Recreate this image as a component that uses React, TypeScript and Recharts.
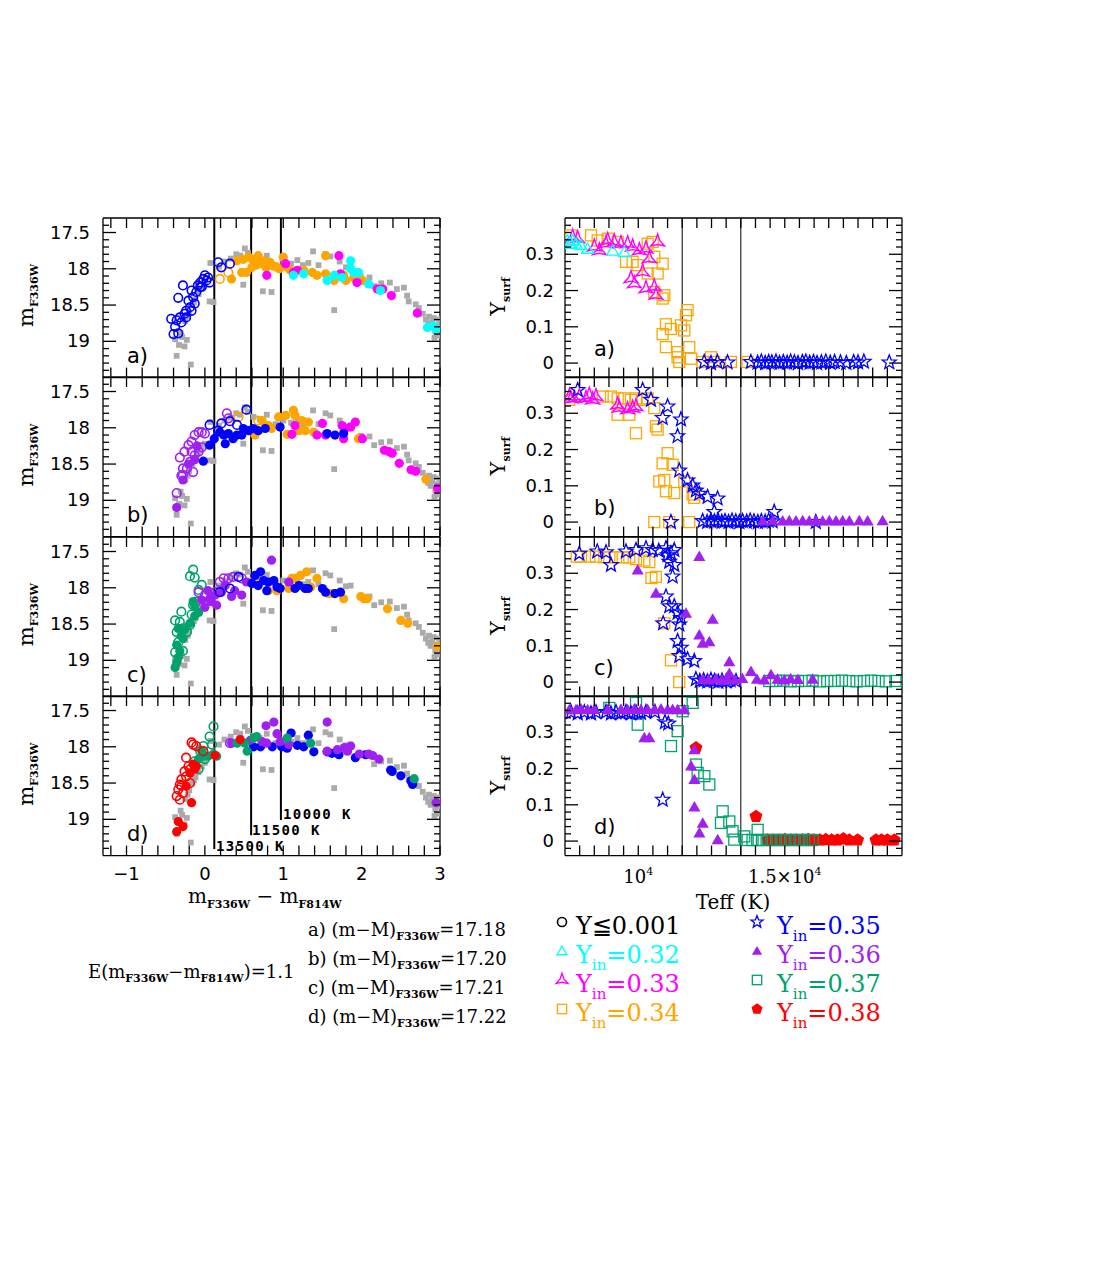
import React from "react";
import { ScatterChart, Scatter, XAxis, YAxis, ReferenceLine } from "recharts";

type Pt = [number, number];
type Mk = "dot" | "ring" | "gsq" | "sq" | "tri" | "trifill" | "tristar" | "star" | "pent";

const BLUE = "#0000ff";
const CYAN = "#00ffff";
const MAGENTA = "#ff00ff";
const ORANGE = "#ffa500";
const PURPLE = "#a020f0";
const GREEN = "#00a36c";
const RED = "#ff0000";
const GRAY = "#aaaaaa";

// axis ticks and labels
const CMD_X_MAJOR = [-1, 0, 1, 2, 3];
const CMD_Y_MAJOR = [17.5, 18, 18.5, 19];
const TEFF_MAJOR = [10000, 15000];
const YSURF_MAJOR = [0, 0.1, 0.2, 0.3];
const PANEL_LETTERS = ["a)", "b)", "c)", "d)"];
const DIST_MODULI = ["17.18", "17.20", "17.21", "17.22"];

// Teff boundaries: colour on the CMD, Teff on the right
const TEMP_COLORS = [0.12, 0.59, 0.97];
const TEMP_LABELS = ["13500 K", "11500 K", "10000 K"];
const TEMP_LINE_ENDS = [19.41, 19.22, 19.01];
const TEMP_TEFF = [11500, 13500];

// observed stars (grey squares), colour vs m_F336W
const grayObs: Pt[] = [
  [-0.38, 18.97], [-0.36, 19.2], [-0.29, 18.94], [-0.23, 18.98], [-0.26, 19.07], [-0.18, 19.32], [-0.33, 19.05], [-0.31, 18.88],
  [-0.25, 18.72], [-0.2, 18.6], [-0.16, 18.5], [-0.12, 18.42], [-0.08, 18.35], [-0.04, 18.27], [0.0, 18.22], [-0.22, 18.66], [-0.14, 18.46], [-0.1, 18.3],
  [0.07, 17.92], [0.11, 18.46], [0.06, 18.45], [0.18, 17.97], [0.25, 17.9], [0.33, 17.86], [0.4, 17.8], [0.45, 17.82], [0.51, 17.72], [0.49, 18.22],
  [0.55, 17.78], [0.62, 17.85], [0.7, 17.88], [0.79, 17.82], [0.74, 18.31], [0.85, 18.32], [0.9, 17.95], [1.0, 17.9], [1.1, 17.93], [1.18, 17.88],
  [1.25, 17.95], [1.32, 17.92], [1.38, 17.76], [1.45, 17.95], [1.54, 17.8], [1.6, 17.83], [1.65, 18.57], [1.72, 17.9], [1.8, 17.98], [1.86, 17.97],
  [1.99, 18.11], [2.1, 18.12], [2.16, 18.24], [2.25, 18.2], [2.36, 18.19], [2.45, 18.28], [2.54, 18.26], [2.58, 18.37], [2.6, 18.45], [2.69, 18.49],
  [2.73, 18.54], [2.78, 18.62], [2.82, 18.7], [2.86, 18.66], [2.88, 18.8], [2.9, 18.74], [2.92, 18.68], [2.94, 18.86], [2.96, 18.78], [2.97, 18.92],
  [2.99, 18.7], [3.0, 18.82], [2.93, 18.95], [2.85, 18.76],
];

// panel a, CMD
const aBlueOpen: Pt[] = [
  [-0.43, 18.69], [-0.36, 18.71], [-0.4, 18.9], [-0.34, 18.89], [-0.38, 18.8], [-0.32, 18.67], [-0.28, 18.23], [-0.34, 18.4], [-0.24, 18.58],
  [-0.26, 18.62], [-0.19, 18.53], [-0.21, 18.44], [-0.15, 18.39], [-0.17, 18.3], [-0.11, 18.32], [-0.09, 18.23], [-0.06, 18.19], [-0.02, 18.14],
  [0.0, 18.09], [0.02, 18.16], [0.04, 18.12], [0.06, 18.19], [-0.04, 18.25], [-0.13, 18.48], [0.17, 17.91], [0.21, 17.98], [0.32, 17.93],
  [-0.3, 18.74], [-0.24, 18.67], [-0.17, 18.58], [-0.06, 18.25],
];
const aOrangeOpen: Pt[] = [[0.19, 18.14], [0.3, 18.05]];
const aOrangeFill: Pt[] = [
  [0.34, 18.14], [0.41, 17.89], [0.49, 17.87], [0.56, 17.84], [0.62, 17.89], [0.68, 17.82], [0.7, 17.93], [0.75, 17.89], [0.83, 17.91],
  [0.87, 17.96], [0.92, 17.98], [1.0, 17.84], [1.05, 17.98], [1.09, 18.02], [0.53, 18.05], [0.6, 17.98], [0.47, 18.05], [1.26, 18.02],
  [1.37, 18.05], [1.43, 18.09], [1.54, 17.82], [1.65, 18.16], [1.77, 18.09], [1.8, 18.16], [1.9, 18.12], [2.01, 18.16], [1.54, 18.07],
  [0.78, 17.98], [0.95, 18.0], [0.65, 17.95],
];
const aMagentaFill: Pt[] = [
  [0.79, 18.09], [1.03, 17.93], [1.18, 18.02], [1.13, 18.05], [1.71, 17.82], [1.73, 18.07], [1.94, 18.19], [2.2, 18.28], [2.27, 18.28],
  [2.38, 18.37], [2.71, 18.61],
];
const aCyanFill: Pt[] = [
  [1.13, 18.09], [1.26, 18.07], [1.56, 18.16], [1.65, 18.09], [1.75, 18.12], [1.86, 17.89], [1.86, 18.0], [1.9, 18.05], [1.96, 18.05],
  [2.09, 18.21], [2.24, 18.3], [2.84, 18.81], [2.91, 18.79], [2.95, 18.83],
];

// panel b, CMD
const bPurpleOpen: Pt[] = [
  [-0.36, 18.9], [-0.3, 18.66], [-0.32, 18.41], [-0.26, 18.33], [-0.21, 18.24], [-0.17, 18.19], [-0.13, 18.1], [-0.08, 18.06], [-0.04, 18.06],
  [0.0, 18.08], [-0.19, 18.47], [-0.23, 18.56], [-0.15, 18.61], [-0.28, 18.65], [-0.13, 18.38], [-0.08, 18.33], [-0.04, 18.27], [-0.17, 18.33],
  [0.28, 17.8], [0.3, 17.87], [-0.28, 18.56],
];
const bPurpleFill: Pt[] = [[-0.36, 19.1], [-0.21, 18.5], [-0.13, 18.44], [-0.28, 18.72], [-0.1, 18.25]];
const bBlueOpen: Pt[] = [[0.06, 17.96], [0.21, 17.94], [0.32, 17.91], [0.41, 17.96], [0.53, 17.75], [0.17, 18.04]];
const bBlueFill: Pt[] = [
  [-0.02, 18.46], [0.06, 18.24], [0.12, 18.15], [0.19, 18.06], [0.26, 18.22], [0.24, 18.1], [0.3, 18.08], [0.36, 18.15], [0.41, 18.1],
  [0.49, 18.01], [0.56, 18.04], [0.62, 18.01], [0.68, 18.04], [0.77, 18.01], [0.96, 17.99], [1.56, 18.08], [1.66, 18.1], [1.77, 18.08], [0.47, 18.1],
];
const bOrangeOpen: Pt[] = [[0.43, 17.85], [0.68, 17.9]];
const bOrangeFill: Pt[] = [
  [0.64, 18.1], [0.73, 17.9], [0.81, 17.97], [0.85, 18.01], [0.94, 17.85], [1.03, 17.83], [1.13, 17.76], [1.15, 17.83], [1.24, 17.9],
  [1.32, 17.92], [1.2, 18.04], [1.28, 18.04], [1.39, 18.06], [1.05, 18.09], [1.96, 18.15], [2.82, 18.71],
];
const bMagentaFill: Pt[] = [
  [1.15, 17.97], [1.11, 18.09], [1.43, 18.1], [1.5, 17.94], [1.54, 18.1], [1.75, 17.97], [1.79, 18.01], [1.86, 17.99], [1.92, 17.92],
  [1.77, 18.15], [2.01, 18.15], [2.29, 18.31], [2.35, 18.33], [2.39, 18.35], [2.48, 18.49], [2.63, 18.58], [2.69, 18.6], [2.97, 18.83],
];

// panel c, CMD
const cGreenOpen: Pt[] = [
  [-0.15, 17.75], [-0.19, 17.84], [-0.13, 17.86], [-0.04, 17.96], [-0.08, 18.03], [-0.11, 18.19], [-0.15, 18.24], [-0.3, 18.33], [-0.38, 18.45],
  [-0.32, 18.47], [-0.36, 18.61], [-0.28, 18.56], [-0.19, 18.51], [-0.34, 18.75], [-0.38, 18.89], [-0.28, 18.87], [-0.23, 18.61], [-0.17, 18.37],
];
const cGreenFill: Pt[] = [
  [-0.38, 19.1], [-0.36, 19.03], [-0.34, 18.96], [-0.32, 18.87], [-0.36, 18.79], [-0.3, 18.66], [-0.26, 18.58], [-0.19, 18.49], [-0.13, 18.39],
  [-0.13, 18.25], [-0.08, 18.34], [-0.15, 18.19], [-0.34, 18.56], [-0.28, 18.7],
];
const cPurpleOpen: Pt[] = [[-0.08, 18.06], [0.19, 17.92], [0.24, 17.87], [0.3, 17.87], [0.36, 17.85], [0.47, 17.87], [0.0, 18.1], [0.13, 18.06]];
const cPurpleFill: Pt[] = [
  [-0.04, 18.17], [0.0, 18.27], [0.06, 18.15], [0.04, 18.04], [0.13, 18.1], [0.15, 18.24], [0.21, 18.06], [0.26, 17.97], [0.34, 18.12],
  [0.38, 18.04], [0.47, 18.1], [0.53, 17.92], [0.85, 17.62], [1.07, 17.92], [0.08, 18.19],
];
const cBlueOpen: Pt[] = [[0.32, 18.01], [0.43, 17.85], [0.19, 18.06]];
const cBlueFill: Pt[] = [
  [0.64, 17.83], [0.71, 17.78], [0.75, 17.9], [0.81, 17.92], [0.88, 17.9], [0.92, 17.99], [0.96, 18.01], [0.68, 17.97], [0.6, 17.94],
  [1.15, 18.01], [1.2, 17.97], [1.28, 18.01], [1.32, 18.01], [1.5, 18.01], [1.54, 18.06], [1.66, 18.08], [1.73, 18.06], [0.79, 18.04],
];
const cOrangeOpen: Pt[] = [[0.6, 17.92]];
const cOrangeFill: Pt[] = [
  [0.81, 18.04], [0.92, 18.04], [1.07, 18.01], [1.11, 17.87], [1.22, 17.83], [1.3, 17.78], [1.35, 17.99], [1.43, 17.87], [1.58, 18.08],
  [1.62, 18.08], [1.77, 18.15], [1.99, 18.12], [2.03, 18.15], [2.07, 18.15], [2.33, 18.29], [2.5, 18.45], [2.59, 18.49], [2.97, 18.81], [1.15, 17.87],
];

// panel d, CMD
const dRedOpen: Pt[] = [
  [-0.36, 18.68], [-0.32, 18.73], [-0.34, 18.59], [-0.3, 18.54], [-0.3, 18.45], [-0.24, 18.41], [-0.26, 18.34], [-0.21, 18.27], [-0.19, 18.31],
  [-0.15, 17.97], [-0.11, 17.99], [-0.17, 17.94], [-0.02, 18.06], [-0.24, 18.15], [-0.28, 18.64], [-0.32, 18.52], [-0.19, 18.5],
];
const dRedFill: Pt[] = [
  [-0.36, 19.17], [-0.34, 19.03], [-0.28, 19.1], [-0.17, 18.77], [-0.19, 18.36], [-0.13, 18.31], [-0.15, 18.24], [-0.11, 18.27], [0.13, 18.12],
  [0.45, 17.9], [-0.24, 18.54],
];
const dGreenOpen: Pt[] = [[0.11, 17.72], [0.06, 17.86], [-0.02, 17.99], [-0.06, 18.06], [0.0, 18.17], [-0.08, 18.31], [-0.13, 18.2], [0.09, 17.97]];
const dPurpleOpen: Pt[] = [[0.32, 17.95]];
const dGreenFill: Pt[] = [
  [-0.08, 18.17], [-0.02, 18.13], [0.04, 18.13], [0.11, 18.1], [0.15, 18.13], [0.41, 17.95], [0.54, 18.06], [0.62, 17.88], [0.66, 17.86],
  [1.05, 17.88], [1.35, 17.95], [2.67, 18.44], [-0.04, 18.06], [0.51, 17.95],
];
const dPurpleFill: Pt[] = [
  [0.34, 17.95], [0.58, 17.91], [0.73, 17.93], [0.78, 17.71], [0.88, 17.66], [0.92, 17.82], [0.96, 17.93], [1.07, 17.97], [0.79, 17.95],
  [1.56, 17.66], [1.56, 18.06], [1.69, 18.04], [1.78, 18.01], [1.86, 17.99], [1.82, 18.06], [1.97, 18.1], [2.09, 18.1], [2.14, 18.12],
  [2.22, 18.17], [2.95, 18.77],
];
const dBlueFill: Pt[] = [
  [0.71, 18.0], [0.86, 18.0], [0.98, 18.0], [1.1, 17.81], [1.05, 18.02], [1.18, 17.98], [1.26, 18.0], [1.32, 17.84], [1.39, 18.07],
  [1.56, 18.07], [1.62, 18.09], [1.71, 18.11], [1.92, 18.15], [2.05, 18.11], [2.37, 18.32], [2.39, 18.34], [2.5, 18.4], [2.63, 18.47],
  [2.65, 18.52], [0.62, 18.0],
];

// right column: Teff vs Y_surf
const raCyanTri: Pt[] = [
  [7592, 0.338], [7705, 0.329], [7762, 0.338], [7875, 0.329], [8046, 0.325], [8273, 0.315], [9126, 0.31], [9524, 0.306], [7650, 0.33],
];
const raMagTri: Pt[] = [
  [7762, 0.347], [7933, 0.343], [8501, 0.32], [8672, 0.31], [8899, 0.329], [8956, 0.338], [9183, 0.334], [9410, 0.329], [9638, 0.329],
  [9808, 0.32], [10036, 0.31], [10263, 0.315], [10377, 0.288], [9751, 0.233], [9865, 0.219], [10149, 0.251], [10263, 0.205], [10547, 0.21],
  [10604, 0.187], [10661, 0.334],
];
const raOrangeSq: Pt[] = [
  [7705, 0.352], [8387, 0.352], [8615, 0.338], [8956, 0.343], [9297, 0.334], [9581, 0.279], [9808, 0.279], [9979, 0.27], [10320, 0.329],
  [10490, 0.334], [10547, 0.293], [10831, 0.274], [10661, 0.247], [10320, 0.247], [10888, 0.187], [10547, 0.196], [10831, 0.178],
  [11683, 0.146], [11626, 0.132], [11456, 0.104], [11570, 0.09], [10945, 0.107], [11115, 0.094], [10831, 0.08], [10945, 0.044],
  [11342, 0.03], [11399, 0.003], [11740, 0.044], [11797, 0.012], [11342, 0.016], [12479, 0.016], [12592, 0.003], [12195, 0.003],
  [13161, 0.003], [13730, 0.003],
];
const raBlueStar: Pt[] = [
  [12250, 0.003], [12480, 0.0], [12700, 0.003], [13047, 0.002], [13843, 0.003], [14071, 0.001], [14200, 0.004], [14330, 0.0], [14450, 0.003],
  [14560, 0.002], [14700, 0.004], [14820, 0.0], [14950, 0.003], [15080, 0.001], [15200, 0.004], [15330, 0.002], [15450, 0.0], [15600, 0.003],
  [15720, 0.004], [15850, 0.001], [15980, 0.003], [16100, 0.0], [16250, 0.002], [16400, 0.004], [16550, 0.001], [16700, 0.003],
  [16900, 0.002], [17100, 0.0], [17350, 0.003], [17500, 0.002], [17700, 0.004], [18566, 0.002],
];

const rbMagTri: Pt[] = [
  [7648, 0.346], [7819, 0.341], [7989, 0.346], [8217, 0.341], [8444, 0.337], [8558, 0.346], [8330, 0.35], [9297, 0.323], [9353, 0.314],
  [9638, 0.31], [9808, 0.314], [9922, 0.318], [7700, 0.34],
];
const rbOrangeSq: Pt[] = [
  [7648, 0.337], [8785, 0.346], [9069, 0.346], [9297, 0.341], [9524, 0.341], [9751, 0.337], [9922, 0.341], [10149, 0.337], [10320, 0.341],
  [10547, 0.314], [9297, 0.296], [9694, 0.296], [9922, 0.245], [10604, 0.264], [10661, 0.255], [11001, 0.19], [10831, 0.162], [11172, 0.158],
  [10718, 0.112], [10888, 0.116], [10945, 0.085], [11228, 0.08], [11570, 0.112], [11854, 0.076], [11911, 0.067], [10547, 0.0], [11058, 0.0],
  [11740, 0.0], [12536, 0.0],
];
const rbBlueStar: Pt[] = [
  [7933, 0.364], [10150, 0.364], [10434, 0.337], [11001, 0.319], [10831, 0.287], [11456, 0.283], [11342, 0.237], [11399, 0.142], [11683, 0.115],
  [11854, 0.101], [11967, 0.087], [12081, 0.078], [12365, 0.069], [12706, 0.065], [12593, 0.028], [11115, 0.0], [12197, 0.003], [12350, 0.0],
  [12480, 0.004], [12600, 0.002], [12720, 0.005], [12850, 0.001], [12960, 0.003], [13080, 0.0], [13200, 0.004], [13330, 0.002], [13450, 0.0],
  [13560, 0.003], [13700, 0.001], [13820, 0.004], [13950, 0.002], [14080, 0.0], [14200, 0.003], [14330, 0.001], [14450, 0.004], [14586, 0.002],
  [14640, 0.028], [16059, 0.0],
];
const rbPurpleTri: Pt[] = [
  [14244, 0.003], [14586, 0.004], [14928, 0.003], [15153, 0.004], [15382, 0.003], [15609, 0.004], [15836, 0.003], [16064, 0.004],
  [16292, 0.003], [16519, 0.004], [16747, 0.003], [16975, 0.004], [17202, 0.003], [17542, 0.004], [17827, 0.003], [18339, 0.004],
];

const rcOrangeSq: Pt[] = [
  [7900, 0.346], [8046, 0.346], [8330, 0.346], [8558, 0.346], [8842, 0.344], [9013, 0.344], [9240, 0.344], [9467, 0.344], [9695, 0.344],
  [9923, 0.339], [10207, 0.335], [10377, 0.331], [10450, 0.287], [10600, 0.29], [10888, 0.162], [11115, 0.06], [11399, 0.0],
];
const rcBlueStar: Pt[] = [
  [7988, 0.354], [9069, 0.323], [9581, 0.36], [9922, 0.364], [10263, 0.369], [10490, 0.364], [10945, 0.369], [11115, 0.355], [11228, 0.364],
  [11058, 0.332], [11228, 0.323], [11172, 0.291], [10945, 0.236], [11058, 0.209], [11228, 0.209], [11342, 0.191], [11456, 0.177],
  [11399, 0.159], [11342, 0.113], [11456, 0.095], [11399, 0.072], [11683, 0.063], [11911, 0.058], [11967, 0.008], [12100, 0.003],
  [12230, 0.005], [12360, 0.002], [12480, 0.006], [12600, 0.003], [12730, 0.001], [12860, 0.004], [13000, 0.002], [13150, 0.005],
  [13335, 0.003], [8600, 0.36], [8900, 0.358], [10700, 0.362], [11000, 0.35], [10850, 0.162],
];
const rcPurpleTri: Pt[] = [
  [12083, 0.346], [9980, 0.309], [10605, 0.245], [11629, 0.19], [12539, 0.173], [12083, 0.13], [12425, 0.111], [12197, 0.107],
  [13107, 0.056], [13107, 0.024], [12197, 0.008], [12400, 0.006], [12650, 0.009], [12850, 0.005], [13050, 0.008], [13300, 0.006],
  [13550, 0.01], [13846, 0.029], [14050, 0.008], [14300, 0.006], [14529, 0.02], [14750, 0.008], [14980, 0.006], [15200, 0.009],
  [15450, 0.007], [15951, 0.008],
];
const rcGreenSq: Pt[] = [
  [14471, 0.003], [14700, 0.003], [14950, 0.004], [15200, 0.002], [15450, 0.003], [15700, 0.003], [15950, 0.004], [16200, 0.002],
  [16450, 0.003], [16700, 0.003], [16950, 0.004], [17200, 0.003], [17450, 0.002], [17700, 0.003], [17950, 0.004], [18200, 0.003],
  [18450, 0.002], [18780, 0.003],
];

const rdPurpleTri: Pt[] = [
  [7648, 0.362], [7875, 0.362], [8046, 0.364], [8273, 0.362], [8501, 0.363], [8956, 0.362], [9410, 0.363], [9638, 0.362], [9865, 0.364],
  [10092, 0.362], [10320, 0.363], [10547, 0.362], [10775, 0.364], [11002, 0.362], [11172, 0.363], [11343, 0.362], [11570, 0.362],
  [10207, 0.285], [10377, 0.285], [11912, 0.252], [11802, 0.207], [11916, 0.17], [11916, 0.094], [12200, 0.049], [12086, 0.022], [12711, 0.004],
];
const rdBlueStar: Pt[] = [
  [7705, 0.355], [7933, 0.352], [8160, 0.355], [8387, 0.352], [8558, 0.355], [8899, 0.356], [9069, 0.352], [9240, 0.355], [9410, 0.353],
  [9581, 0.356], [9751, 0.352], [9922, 0.355], [10092, 0.353], [10263, 0.356], [10570, 0.356], [10911, 0.328], [11024, 0.324], [10833, 0.114],
];
const rdGreenSq: Pt[] = [
  [9012, 0.367], [9923, 0.381], [9980, 0.321], [11117, 0.262], [11345, 0.303], [11515, 0.358], [11857, 0.381], [11970, 0.211], [12027, 0.188],
  [12255, 0.179], [12425, 0.156], [12880, 0.082], [12823, 0.05], [13107, 0.054], [13221, 0.027], [13278, 0.004], [13619, 0.013], [14074, 0.031],
  [13733, 0.003], [13900, 0.003], [14060, 0.003], [14220, 0.003], [14380, 0.003], [14540, 0.003], [14700, 0.003], [14860, 0.003],
  [15020, 0.003], [15180, 0.003], [15340, 0.003], [15500, 0.003], [15660, 0.003], [15820, 0.003], [15951, 0.003],
];
const rdRedPent: Pt[] = [
  [11970, 0.257], [14017, 0.068], [14416, 0.003], [14600, 0.003], [14800, 0.003], [15000, 0.004], [15200, 0.003], [15400, 0.003],
  [15600, 0.003], [15800, 0.004], [16000, 0.003], [16200, 0.003], [16400, 0.004], [16600, 0.003], [16800, 0.003], [17000, 0.006],
  [17200, 0.003], [17486, 0.003], [18112, 0.003], [18300, 0.003], [18500, 0.003], [18738, 0.003],
];

// layout
const ROW_TOP0 = 217.5;
const PLOT_H = 159.6;
const PLOT_W = 337;
const LEFT_X0 = 103;
const RIGHT_X0 = 564.5;
const PAD_L = 70;
const PAD_T = 12;
const PAD_R = 12;
const PAD_B = 42;
const CHART_W = PAD_L + PLOT_W + PAD_R;
const CHART_H = PAD_T + PLOT_H + PAD_B;
const SANS = "'DejaVu Sans', sans-serif";
const SERIF = "'DejaVu Serif', serif";

const range = (a: number, b: number, s: number) => {
  const out: number[] = [];
  for (let v = a; v <= b + 1e-9; v += s) out.push(Math.round(v * 1000) / 1000);
  return out;
};
const CMD_X_TICKS = range(-1.2, 3.0, 0.2);
const CMD_Y_TICKS = range(17.4, 19.4, 0.1);
const TEFF_TICKS = range(8000, 18500, 500);
const YSURF_TICKS = range(-0.02, 0.38, 0.02);

const toXY = (a: Pt[]) => a.map(([x, y]) => ({ x, y }));

const polyPath = (cx: number, cy: number, n: number, R: number) => {
  let d = "";
  for (let i = 0; i < n; i++) {
    const a = ((-90 + (360 * i) / n) * Math.PI) / 180;
    d += (i ? "L" : "M") + (cx + R * Math.cos(a)).toFixed(2) + "," + (cy + R * Math.sin(a)).toFixed(2);
  }
  return d + "Z";
};
const starPath = (cx: number, cy: number, n: number, R: number, r: number) => {
  let d = "";
  for (let i = 0; i < 2 * n; i++) {
    const a = ((-90 + (180 * i) / n) * Math.PI) / 180;
    const rad = i % 2 === 0 ? R : r;
    d += (i ? "L" : "M") + (cx + rad * Math.cos(a)).toFixed(2) + "," + (cy + rad * Math.sin(a)).toFixed(2);
  }
  return d + "Z";
};

function drawMarker(kind: Mk, color: string, cx: number, cy: number, s = 1) {
  switch (kind) {
    case "dot":
      return <circle cx={cx} cy={cy} r={4.6 * s} fill={color} />;
    case "ring":
      return <circle cx={cx} cy={cy} r={4.3 * s} fill="none" stroke={color} strokeWidth={1.6} />;
    case "gsq":
      return <rect x={cx - 2.9} y={cy - 2.9} width={5.8} height={5.8} fill={GRAY} />;
    case "sq":
      return <rect x={cx - 5.5 * s} y={cy - 5.5 * s} width={11 * s} height={11 * s} fill="none" stroke={color} strokeWidth={1.3} />;
    case "tri":
      return <path d={polyPath(cx, cy + 1 * s, 3, 6.8 * s)} fill="none" stroke={color} strokeWidth={1.3} />;
    case "trifill":
      return <path d={polyPath(cx, cy + 1 * s, 3, 7 * s)} fill={color} />;
    case "tristar":
      return <path d={starPath(cx, cy, 3, 8 * s, 2.6 * s)} fill="none" stroke={color} strokeWidth={1.4} />;
    case "star":
      return <path d={starPath(cx, cy, 5, 7.5 * s, 3.2 * s)} fill="none" stroke={color} strokeWidth={1.3} />;
    case "pent":
      return <path d={polyPath(cx, cy, 5, 6.8 * s)} fill={color} />;
  }
  return null;
}
const shapeOf = (kind: Mk, color: string) => (p: any) => drawMarker(kind, color, p.cx, p.cy);

type Series = { data: Pt[]; kind: Mk; color: string };

const cmdSeries: Series[][] = [
  [
    { data: aOrangeFill, kind: "dot", color: ORANGE },
    { data: aOrangeOpen, kind: "ring", color: ORANGE },
    { data: aMagentaFill, kind: "dot", color: MAGENTA },
    { data: aCyanFill, kind: "dot", color: CYAN },
    { data: aBlueOpen, kind: "ring", color: BLUE },
  ],
  [
    { data: bOrangeFill, kind: "dot", color: ORANGE },
    { data: bOrangeOpen, kind: "ring", color: ORANGE },
    { data: bMagentaFill, kind: "dot", color: MAGENTA },
    { data: bPurpleFill, kind: "dot", color: PURPLE },
    { data: bPurpleOpen, kind: "ring", color: PURPLE },
    { data: bBlueFill, kind: "dot", color: BLUE },
    { data: bBlueOpen, kind: "ring", color: BLUE },
  ],
  [
    { data: cOrangeFill, kind: "dot", color: ORANGE },
    { data: cOrangeOpen, kind: "ring", color: ORANGE },
    { data: cGreenFill, kind: "dot", color: GREEN },
    { data: cGreenOpen, kind: "ring", color: GREEN },
    { data: cPurpleFill, kind: "dot", color: PURPLE },
    { data: cPurpleOpen, kind: "ring", color: PURPLE },
    { data: cBlueFill, kind: "dot", color: BLUE },
    { data: cBlueOpen, kind: "ring", color: BLUE },
  ],
  [
    { data: dBlueFill, kind: "dot", color: BLUE },
    { data: dPurpleFill, kind: "dot", color: PURPLE },
    { data: dPurpleOpen, kind: "ring", color: PURPLE },
    { data: dGreenFill, kind: "dot", color: GREEN },
    { data: dGreenOpen, kind: "ring", color: GREEN },
    { data: dRedFill, kind: "dot", color: RED },
    { data: dRedOpen, kind: "ring", color: RED },
  ],
];

const teffSeries: Series[][] = [
  [
    { data: raOrangeSq, kind: "sq", color: ORANGE },
    { data: raMagTri, kind: "tristar", color: MAGENTA },
    { data: raCyanTri, kind: "tri", color: CYAN },
    { data: raBlueStar, kind: "star", color: BLUE },
  ],
  [
    { data: rbOrangeSq, kind: "sq", color: ORANGE },
    { data: rbMagTri, kind: "tristar", color: MAGENTA },
    { data: rbBlueStar, kind: "star", color: BLUE },
    { data: rbPurpleTri, kind: "trifill", color: PURPLE },
  ],
  [
    { data: rcGreenSq, kind: "sq", color: GREEN },
    { data: rcOrangeSq, kind: "sq", color: ORANGE },
    { data: rcBlueStar, kind: "star", color: BLUE },
    { data: rcPurpleTri, kind: "trifill", color: PURPLE },
  ],
  [
    { data: rdRedPent, kind: "pent", color: RED },
    { data: rdGreenSq, kind: "sq", color: GREEN },
    { data: rdBlueStar, kind: "star", color: BLUE },
    { data: rdPurpleTri, kind: "trifill", color: PURPLE },
  ],
];

type Side = "top" | "bottom" | "left" | "right";
const isIn = (arr: number[], v: number) => arr.some((m) => Math.abs(m - v) < 1e-6);

// ticks point inward; x ticks are all long, y ticks long only at labelled values
function tickFn(side: Side, majors: number[], label?: (v: number, x: number, y: number) => React.ReactNode) {
  return (props: any) => {
    const { x, y, payload } = props;
    const v = payload.value as number;
    const major = isIn(majors, v);
    const vertical = side === "left" || side === "right";
    const len = vertical ? (major ? 13 : 6) : 10;
    let x2 = x;
    let y2 = y;
    if (side === "bottom") y2 = y - len;
    if (side === "top") y2 = y + len;
    if (side === "left") x2 = x + len;
    if (side === "right") x2 = x - len;
    return (
      <g>
        <line x1={x} y1={y} x2={x2} y2={y2} stroke="#000" strokeWidth={1.3} />
        {major && label ? label(v, x, y) : null}
      </g>
    );
  };
}

const cmdYLabel = (v: number, x: number, y: number) => (
  <text x={x - 13} y={y + 6} textAnchor="end" fontFamily={SANS} fontSize={18} fill="#000">
    {String(v)}
  </text>
);
const cmdXLabel = (v: number, x: number, y: number) => (
  <text x={x} y={y + 24} textAnchor="middle" fontFamily={SANS} fontSize={18} fill="#000">
    {v < 0 ? "\u2212" + Math.abs(v) : String(v)}
  </text>
);
const ysurfLabel = (v: number, x: number, y: number) => (
  <text x={x - 11} y={y + 6} textAnchor="end" fontFamily={SANS} fontSize={18} fill="#000">
    {String(v)}
  </text>
);
const teffLabel = (v: number, x: number, y: number) => (
  <text x={x} y={y + 27} textAnchor="middle" fontFamily={SERIF} fontSize={18} fill="#000">
    {v === 10000 ? "" : "1.5\u00d7"}10
    <tspan dy={-8} fontSize={11}>
      4
    </tspan>
  </text>
);

const axisLine = { stroke: "#000", strokeWidth: 1.3 };
const chartMargin = { top: PAD_T - 1, right: PAD_R - 1, bottom: 0, left: 0 };

function CmdPanel({ row }: { row: number }) {
  const last = row === 3;
  return (
    <div style={{ position: "absolute", left: LEFT_X0 - PAD_L, top: ROW_TOP0 + row * PLOT_H - PAD_T }}>
      <ScatterChart width={CHART_W} height={CHART_H} margin={chartMargin}>
        <XAxis xAxisId="b" type="number" dataKey="x" domain={[-1.3, 3.0]} allowDataOverflow ticks={CMD_X_TICKS} interval={0}
          tickSize={0} tickMargin={0} tickLine={false} axisLine={axisLine} height={PAD_B}
          tick={tickFn("bottom", CMD_X_MAJOR, last ? cmdXLabel : undefined)} />
        <XAxis xAxisId="t" orientation="top" type="number" dataKey="x" domain={[-1.3, 3.0]} allowDataOverflow ticks={CMD_X_TICKS}
          interval={0} tickSize={0} tickMargin={0} tickLine={false} axisLine={axisLine} height={1} tick={tickFn("top", CMD_X_MAJOR)} />
        <YAxis yAxisId="l" type="number" dataKey="y" domain={[17.3, 19.5]} reversed allowDataOverflow ticks={CMD_Y_TICKS} interval={0}
          tickSize={0} tickMargin={0} tickLine={false} axisLine={axisLine} width={PAD_L} tick={tickFn("left", CMD_Y_MAJOR, cmdYLabel)} />
        <YAxis yAxisId="r" orientation="right" type="number" dataKey="y" domain={[17.3, 19.5]} reversed allowDataOverflow
          ticks={CMD_Y_TICKS} interval={0} tickSize={0} tickMargin={0} tickLine={false} axisLine={axisLine} width={1}
          tick={tickFn("right", CMD_Y_MAJOR)} />
        <Scatter xAxisId="b" yAxisId="l" data={toXY(grayObs)} shape={shapeOf("gsq", GRAY)} isAnimationActive={false} />
        {cmdSeries[row].map((s, k) => (
          <Scatter key={k} xAxisId="b" yAxisId="l" data={toXY(s.data)} shape={shapeOf(s.kind, s.color)} isAnimationActive={false} />
        ))}
        {TEMP_COLORS.map((c, k) =>
          last ? (
            <ReferenceLine key={k} xAxisId="b" yAxisId="l" segment={[{ x: c, y: 17.3 }, { x: c, y: TEMP_LINE_ENDS[k] }]}
              stroke="#000" strokeWidth={2} />
          ) : (
            <ReferenceLine key={k} xAxisId="b" yAxisId="l" x={c} stroke="#000" strokeWidth={2} />
          )
        )}
      </ScatterChart>
    </div>
  );
}

function TeffPanel({ row }: { row: number }) {
  const last = row === 3;
  return (
    <div style={{ position: "absolute", left: RIGHT_X0 - PAD_L, top: ROW_TOP0 + row * PLOT_H - PAD_T }}>
      <ScatterChart width={CHART_W} height={CHART_H} margin={chartMargin}>
        <XAxis xAxisId="b" type="number" dataKey="x" domain={[7500, 19000]} allowDataOverflow ticks={TEFF_TICKS} interval={0}
          tickSize={0} tickMargin={0} tickLine={false} axisLine={axisLine} height={PAD_B}
          tick={tickFn("bottom", TEFF_MAJOR, last ? teffLabel : undefined)} />
        <XAxis xAxisId="t" orientation="top" type="number" dataKey="x" domain={[7500, 19000]} allowDataOverflow ticks={TEFF_TICKS}
          interval={0} tickSize={0} tickMargin={0} tickLine={false} axisLine={axisLine} height={1} tick={tickFn("top", TEFF_MAJOR)} />
        <YAxis yAxisId="l" type="number" dataKey="y" domain={[-0.04, 0.4]} allowDataOverflow ticks={YSURF_TICKS} interval={0}
          tickSize={0} tickMargin={0} tickLine={false} axisLine={axisLine} width={PAD_L} tick={tickFn("left", YSURF_MAJOR, ysurfLabel)} />
        <YAxis yAxisId="r" orientation="right" type="number" dataKey="y" domain={[-0.04, 0.4]} allowDataOverflow ticks={YSURF_TICKS}
          interval={0} tickSize={0} tickMargin={0} tickLine={false} axisLine={axisLine} width={1} tick={tickFn("right", YSURF_MAJOR)} />
        {teffSeries[row].map((s, k) => (
          <Scatter key={k} xAxisId="b" yAxisId="l" data={toXY(s.data)} shape={shapeOf(s.kind, s.color)} isAnimationActive={false} />
        ))}
        {TEMP_TEFF.map((t, k) => (
          <ReferenceLine key={k} xAxisId="b" yAxisId="l" x={t} stroke="#000" strokeWidth={1} />
        ))}
      </ScatterChart>
    </div>
  );
}

const SUB = { fontSize: 11, fontWeight: 700 as const };

function Overlay() {
  const legendLeft: [Mk, string, string][] = [
    ["ring", "#000", ""],
    ["tri", CYAN, "0.32"],
    ["tristar", MAGENTA, "0.33"],
    ["sq", ORANGE, "0.34"],
  ];
  const legendRight: [Mk, string, string][] = [
    ["star", BLUE, "0.35"],
    ["trifill", PURPLE, "0.36"],
    ["sq", GREEN, "0.37"],
    ["pent", RED, "0.38"],
  ];
  return (
    <svg width={1117} height={1283} style={{ position: "absolute", left: 0, top: 0, pointerEvents: "none" }}>
      {PANEL_LETTERS.map((l, i) => {
        const top = ROW_TOP0 + i * PLOT_H;
        return (
          <g key={l}>
            <text x={127} y={top + 145} fontFamily={SANS} fontSize={21} fill="#000">{l}</text>
            <text x={594} y={top + 138} fontFamily={SANS} fontSize={21} fill="#000">{l}</text>
            <text transform={`translate(33 ${top + 78}) rotate(-90)`} textAnchor="middle" fontFamily={SERIF} fontSize={21} fill="#000">
              m<tspan dy={5} {...SUB}>F336W</tspan>
            </text>
            <text transform={`translate(505 ${top + 79}) rotate(-90)`} textAnchor="middle" fontFamily={SERIF} fontSize={21} fill="#000">
              Y<tspan dy={5} {...SUB}>surf</tspan>
            </text>
          </g>
        );
      })}
      {TEMP_LABELS.map((t, k) => (
        <text key={t} x={[216, 252, 283][k]} y={[851, 835, 819][k]} fontFamily="'DejaVu Sans Mono', monospace" fontWeight={700}
          fontSize={14} letterSpacing={1.4} fill="#000">{t}</text>
      ))}
      <text x={188} y={903} fontFamily={SERIF} fontSize={20} fill="#000">
        m<tspan dy={5} {...SUB}>F336W</tspan><tspan dy={-5}>{"  \u2212  m"}</tspan><tspan dy={5} {...SUB}>F814W</tspan>
      </text>
      <text x={733} y={909} textAnchor="middle" fontFamily={SERIF} fontSize={20} fill="#000">Teff  (K)</text>
      <text x={88} y={978} fontFamily={SERIF} fontSize={18} fill="#000">
        E(m<tspan dy={4} {...SUB}>F336W</tspan><tspan dy={-4}>{"\u2212m"}</tspan><tspan dy={4} {...SUB}>F814W</tspan>
        <tspan dy={-4}>)=1.1</tspan>
      </text>
      {DIST_MODULI.map((d, i) => (
        <text key={d} x={308} y={936 + i * 29} fontFamily={SERIF} fontSize={18} fill="#000">
          {PANEL_LETTERS[i]} (m{"\u2212"}M)<tspan dy={4} {...SUB}>F336W</tspan><tspan dy={-4}>={d}</tspan>
        </text>
      ))}
      {legendLeft.map(([k, c, v], i) => (
        <g key={"l" + i}>
          {drawMarker(k, c, 562, 922 + i * 29, k === "ring" ? 1.05 : 0.85)}
          <text x={576} y={934 + i * 29} fontFamily={SERIF} fontSize={24} fill={c}>
            {v === "" ? "Y\u22660.001" : (
              <>
                Y<tspan dy={7} fontSize={15}>in</tspan><tspan dy={-7}>={v}</tspan>
              </>
            )}
          </text>
        </g>
      ))}
      {legendRight.map(([k, c, v], i) => (
        <g key={"r" + i}>
          {drawMarker(k, c, 757, 922 + i * 29, 0.85)}
          <text x={777} y={934 + i * 29} fontFamily={SERIF} fontSize={24} fill={c}>
            Y<tspan dy={7} fontSize={15}>in</tspan><tspan dy={-7}>={v}</tspan>
          </text>
        </g>
      ))}
    </svg>
  );
}

export default function App() {
  return (
    <div style={{ position: "absolute", left: 0, top: 0, width: 1117, height: 1283, background: "#fff" }}>
      {[0, 1, 2, 3].map((r) => (
        <CmdPanel key={"c" + r} row={r} />
      ))}
      {[0, 1, 2, 3].map((r) => (
        <TeffPanel key={"t" + r} row={r} />
      ))}
      <Overlay />
    </div>
  );
}
